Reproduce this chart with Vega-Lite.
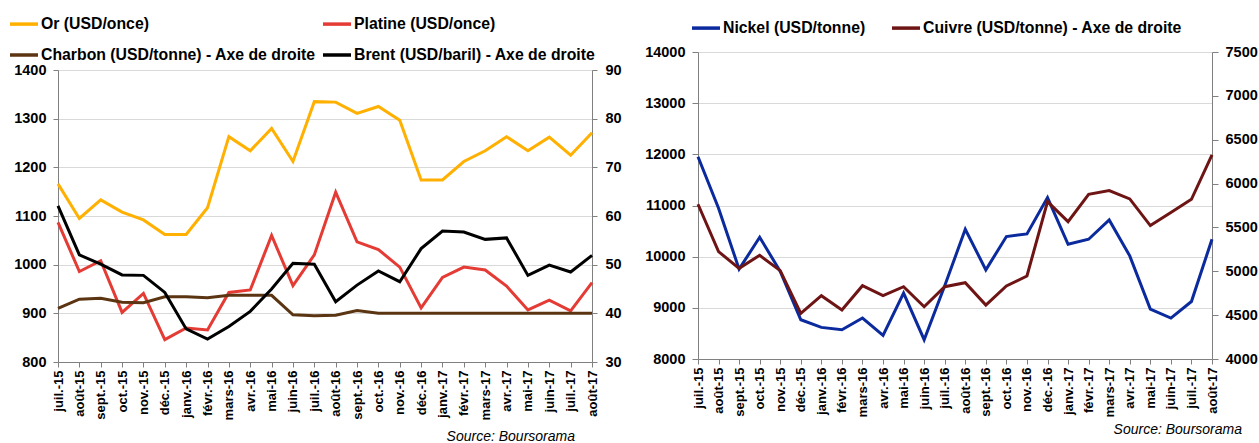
{
  "$schema": "https://vega.github.io/schema/vega-lite/v6.json",
  "background": "white",
  "padding": {"left": 8, "top": 7, "right": 0, "bottom": 0},
  "config": {
    "font": "Liberation Sans",
    "view": {"stroke": null},
    "concat": {"spacing": 22},
    "axis": {"labelFont": "Liberation Sans", "labelFontWeight": "bold", "labelColor": "#000000", "domainColor": "#808080", "tickColor": "#808080", "gridColor": "#d9d9d9", "gridWidth": 1, "domainWidth": 1, "title": null},
    "legend": {"labelFont": "Liberation Sans", "labelFontWeight": "bold", "labelColor": "#000000", "labelFontSize": 15.8, "symbolType": "stroke", "symbolSize": 784, "symbolStrokeWidth": 3.5, "title": null, "orient": "none", "direction": "horizontal", "labelLimit": 400, "labelOffset": 1}
  },
  "datasets": {
    "gauche": [
      {"mois": "juil.-15", "Or": 1166, "Platine": 1087, "Charbon": 41.0, "Brent": 62.1},
      {"mois": "août-15", "Or": 1095, "Platine": 986, "Charbon": 42.9, "Brent": 52.0},
      {"mois": "sept.-15", "Or": 1133, "Platine": 1008, "Charbon": 43.1, "Brent": 50.1},
      {"mois": "oct.-15", "Or": 1108, "Platine": 902, "Charbon": 42.3, "Brent": 47.9},
      {"mois": "nov.-15", "Or": 1092, "Platine": 941, "Charbon": 42.2, "Brent": 47.8},
      {"mois": "déc.-15", "Or": 1062, "Platine": 846, "Charbon": 43.4, "Brent": 44.3},
      {"mois": "janv.-16", "Or": 1062, "Platine": 870, "Charbon": 43.4, "Brent": 36.8},
      {"mois": "févr.-16", "Or": 1117, "Platine": 866, "Charbon": 43.2, "Brent": 34.7},
      {"mois": "mars-16", "Or": 1263, "Platine": 943, "Charbon": 43.7, "Brent": 37.3},
      {"mois": "avr.-16", "Or": 1234, "Platine": 948, "Charbon": 43.7, "Brent": 40.4},
      {"mois": "mai-16", "Or": 1280, "Platine": 1060, "Charbon": 43.7, "Brent": 45.0},
      {"mois": "juin-16", "Or": 1212, "Platine": 957, "Charbon": 39.7, "Brent": 50.3},
      {"mois": "juil.-16", "Or": 1335, "Platine": 1020, "Charbon": 39.5, "Brent": 50.1},
      {"mois": "août-16", "Or": 1334, "Platine": 1149, "Charbon": 39.6, "Brent": 42.4},
      {"mois": "sept.-16", "Or": 1311, "Platine": 1047, "Charbon": 40.6, "Brent": 45.8},
      {"mois": "oct.-16", "Or": 1325, "Platine": 1031, "Charbon": 40.0, "Brent": 48.7},
      {"mois": "nov.-16", "Or": 1297, "Platine": 995, "Charbon": 40.0, "Brent": 46.5},
      {"mois": "déc.-16", "Or": 1174, "Platine": 911, "Charbon": 40.0, "Brent": 53.3},
      {"mois": "janv.-17", "Or": 1174, "Platine": 974, "Charbon": 40.0, "Brent": 56.9},
      {"mois": "févr.-17", "Or": 1212, "Platine": 995, "Charbon": 40.0, "Brent": 56.7},
      {"mois": "mars-17", "Or": 1234, "Platine": 989, "Charbon": 40.0, "Brent": 55.2},
      {"mois": "avr.-17", "Or": 1263, "Platine": 956, "Charbon": 40.0, "Brent": 55.5},
      {"mois": "mai-17", "Or": 1234, "Platine": 907, "Charbon": 40.0, "Brent": 47.8},
      {"mois": "juin-17", "Or": 1262, "Platine": 927, "Charbon": 40.0, "Brent": 49.9},
      {"mois": "juil.-17", "Or": 1225, "Platine": 905, "Charbon": 40.0, "Brent": 48.5},
      {"mois": "août-17", "Or": 1271, "Platine": 963, "Charbon": 40.0, "Brent": 51.9}
    ],
    "droite": [
      {"mois": "juil.-15", "Nickel": 11954, "Cuivre": 5764},
      {"mois": "août-15", "Nickel": 10946, "Cuivre": 5224},
      {"mois": "sept.-15", "Nickel": 9756, "Cuivre": 5034},
      {"mois": "oct.-15", "Nickel": 10380, "Cuivre": 5182},
      {"mois": "nov.-15", "Nickel": 9711, "Cuivre": 5007},
      {"mois": "déc.-15", "Nickel": 8767, "Cuivre": 4520},
      {"mois": "janv.-16", "Nickel": 8618, "Cuivre": 4722},
      {"mois": "févr.-16", "Nickel": 8572, "Cuivre": 4558},
      {"mois": "mars-16", "Nickel": 8800, "Cuivre": 4836},
      {"mois": "avr.-16", "Nickel": 8462, "Cuivre": 4722},
      {"mois": "mai-16", "Nickel": 9288, "Cuivre": 4824},
      {"mois": "juin-16", "Nickel": 8377, "Cuivre": 4596},
      {"mois": "juil.-16", "Nickel": 9430, "Cuivre": 4824},
      {"mois": "août-16", "Nickel": 10536, "Cuivre": 4870},
      {"mois": "sept.-16", "Nickel": 9742, "Cuivre": 4615},
      {"mois": "oct.-16", "Nickel": 10393, "Cuivre": 4832},
      {"mois": "nov.-16", "Nickel": 10445, "Cuivre": 4946},
      {"mois": "déc.-16", "Nickel": 11154, "Cuivre": 5795},
      {"mois": "janv.-17", "Nickel": 10243, "Cuivre": 5566},
      {"mois": "févr.-17", "Nickel": 10341, "Cuivre": 5878},
      {"mois": "mars-17", "Nickel": 10718, "Cuivre": 5920},
      {"mois": "avr.-17", "Nickel": 10016, "Cuivre": 5825},
      {"mois": "mai-17", "Nickel": 8975, "Cuivre": 5521},
      {"mois": "juin-17", "Nickel": 8799, "Cuivre": 5669},
      {"mois": "juil.-17", "Nickel": 9124, "Cuivre": 5821},
      {"mois": "août-17", "Nickel": 10341, "Cuivre": 6327}
    ]
  },
  "hconcat": [
    {
      "spacing": 0,
      "resolve": {"legend": {"color": "independent"}, "scale": {"color": "independent"}},
      "vconcat": [
        {"width": 10, "height": 1, "data": {"values": [{}]}, "mark": {"type": "point", "opacity": 0, "size": 0}, "encoding": {}},
        {
          "width": 534,
          "height": 292,
          "data": {"name": "gauche"},
          "title": {"text": "Source: Boursorama", "orient": "bottom", "anchor": "end", "frame": "group", "dx": -17, "offset": 10, "fontSize": 14, "fontStyle": "italic", "fontWeight": "normal", "color": "#000000", "font": "Liberation Sans"},
          "encoding": {
            "x": {
              "field": "mois", "type": "ordinal",
              "sort": ["juil.-15", "août-15", "sept.-15", "oct.-15", "nov.-15", "déc.-15", "janv.-16", "févr.-16", "mars-16", "avr.-16", "mai-16", "juin-16", "juil.-16", "août-16", "sept.-16", "oct.-16", "nov.-16", "déc.-16", "janv.-17", "févr.-17", "mars-17", "avr.-17", "mai-17", "juin-17", "juil.-17", "août-17"],
              "scale": {"type": "point", "padding": 0},
              "axis": {"labelAngle": 270, "labelFontSize": 13, "tickSize": 5, "labelPadding": 3, "grid": false}
            }
          },
          "layer": [
            {
              "transform": [{"fold": ["Or", "Platine"], "as": ["serie", "valeur"]}],
              "mark": {"type": "line", "strokeWidth": 3},
              "encoding": {
                "y": {"field": "valeur", "type": "quantitative", "scale": {"domain": [800, 1400], "nice": false, "zero": false},
                  "axis": {"orient": "left", "values": [800, 900, 1000, 1100, 1200, 1300, 1400], "format": "d", "grid": true, "labelFontSize": 14.5, "tickSize": 5, "labelPadding": 7}},
                "color": {"field": "serie", "type": "nominal",
                  "scale": {"domain": ["Or", "Platine", "Charbon", "Brent"], "range": ["#FFB000", "#E53B35", "#5B3512", "#000000"]},
                  "legend": {"columns": 2, "columnPadding": 0, "rowPadding": 7, "legendX": -50, "legendY": -62,
                    "labelExpr": "datum.label == 'Or' ? 'Or (USD/once)' : datum.label == 'Platine' ? 'Platine (USD/once)' : datum.label == 'Charbon' ? 'Charbon (USD/tonne) - Axe de droite' : 'Brent (USD/baril) - Axe de droite'"}}
              }
            },
            {
              "transform": [{"fold": ["Charbon", "Brent"], "as": ["serie", "valeur"]}],
              "mark": {"type": "line", "strokeWidth": 3},
              "encoding": {
                "y": {"field": "valeur", "type": "quantitative", "scale": {"domain": [30, 90], "nice": false, "zero": false},
                  "axis": {"orient": "right", "values": [30, 40, 50, 60, 70, 80, 90], "format": "d", "grid": false, "labelFontSize": 14.5, "tickSize": 5, "labelPadding": 8}},
                "color": {"field": "serie", "type": "nominal",
                  "scale": {"domain": ["Or", "Platine", "Charbon", "Brent"], "range": ["#FFB000", "#E53B35", "#5B3512", "#000000"]},
                  "legend": {"columns": 2, "columnPadding": 0, "rowPadding": 7, "legendX": -50, "legendY": -62,
                    "labelExpr": "datum.label == 'Or' ? 'Or (USD/once)' : datum.label == 'Platine' ? 'Platine (USD/once)' : datum.label == 'Charbon' ? 'Charbon (USD/tonne) - Axe de droite' : 'Brent (USD/baril) - Axe de droite'"}}
              }
            }
          ],
          "resolve": {"scale": {"y": "independent"}}
        }
      ]
    },
    {
      "spacing": 0,
      "resolve": {"legend": {"color": "independent"}, "scale": {"color": "independent"}},
      "vconcat": [
        {"width": 10, "height": 1, "data": {"values": [{}]}, "mark": {"type": "point", "opacity": 0, "size": 0}, "encoding": {}},
        {
          "width": 514,
          "height": 307,
          "data": {"name": "droite"},
          "title": {"text": "Source: Boursorama", "orient": "bottom", "anchor": "end", "frame": "group", "dx": 30, "offset": 6, "fontSize": 14, "fontStyle": "italic", "fontWeight": "normal", "color": "#000000", "font": "Liberation Sans"},
          "encoding": {
            "x": {
              "field": "mois", "type": "ordinal",
              "sort": ["juil.-15", "août-15", "sept.-15", "oct.-15", "nov.-15", "déc.-15", "janv.-16", "févr.-16", "mars-16", "avr.-16", "mai-16", "juin-16", "juil.-16", "août-16", "sept.-16", "oct.-16", "nov.-16", "déc.-16", "janv.-17", "févr.-17", "mars-17", "avr.-17", "mai-17", "juin-17", "juil.-17", "août-17"],
              "scale": {"type": "point", "padding": 0},
              "axis": {"labelAngle": 270, "labelFontSize": 13, "tickSize": 5, "labelPadding": 3, "grid": false}
            }
          },
          "layer": [
            {
              "transform": [{"fold": ["Nickel"], "as": ["serie", "valeur"]}],
              "mark": {"type": "line", "strokeWidth": 3},
              "encoding": {
                "y": {"field": "valeur", "type": "quantitative", "scale": {"domain": [8000, 14000], "nice": false, "zero": false},
                  "axis": {"orient": "left", "values": [8000, 9000, 10000, 11000, 12000, 13000, 14000], "format": "d", "grid": true, "labelFontSize": 14.5, "tickSize": 6, "labelPadding": 7}},
                "color": {"field": "serie", "type": "nominal",
                  "scale": {"domain": ["Nickel", "Cuivre"], "range": ["#0A2A9E", "#6E1414"]},
                  "legend": {"columns": 2, "columnPadding": 19, "legendX": -12, "legendY": -44, "padding": 4,
                    "labelExpr": "datum.label == 'Nickel' ? 'Nickel (USD/tonne)' : 'Cuivre (USD/tonne) - Axe de droite'"}}
              }
            },
            {
              "transform": [{"fold": ["Cuivre"], "as": ["serie", "valeur"]}],
              "mark": {"type": "line", "strokeWidth": 3},
              "encoding": {
                "y": {"field": "valeur", "type": "quantitative", "scale": {"domain": [4000, 7500], "nice": false, "zero": false},
                  "axis": {"orient": "right", "values": [4000, 4500, 5000, 5500, 6000, 6500, 7000, 7500], "format": "d", "grid": false, "labelFontSize": 14.5, "tickSize": 6, "labelPadding": 7}},
                "color": {"field": "serie", "type": "nominal",
                  "scale": {"domain": ["Nickel", "Cuivre"], "range": ["#0A2A9E", "#6E1414"]},
                  "legend": {"columns": 2, "columnPadding": 19, "legendX": -12, "legendY": -44, "padding": 4,
                    "labelExpr": "datum.label == 'Nickel' ? 'Nickel (USD/tonne)' : 'Cuivre (USD/tonne) - Axe de droite'"}}
              }
            }
          ],
          "resolve": {"scale": {"y": "independent"}}
        }
      ]
    }
  ],
  "resolve": {"scale": {"color": "independent"}, "legend": {"color": "independent"}}
}
